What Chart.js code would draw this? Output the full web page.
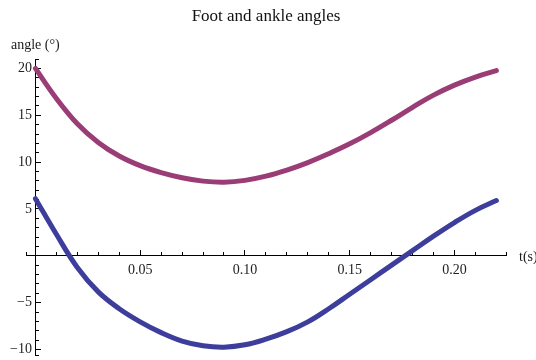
<!DOCTYPE html>
<html>
<head>
<meta charset="utf-8">
<script src="https://cdn.jsdelivr.net/npm/chart.js@4.4.1/dist/chart.umd.min.js"></script>
<style>
  html, body { margin: 0; padding: 0; background: #fff; }
  #wrap { width: 536px; height: 360px; }
</style>
</head>
<body>
<div id="wrap"><canvas id="angleChart"></canvas></div>
<script>
const tValues = [0.00, 0.01, 0.02, 0.03, 0.04, 0.05, 0.06, 0.07, 0.08, 0.09, 0.10, 0.11,
                 0.12, 0.13, 0.14, 0.15, 0.16, 0.17, 0.18, 0.19, 0.20, 0.21, 0.22];
const footAngle = [20.0, 16.8, 14.1, 12.1, 10.65, 9.62, 8.88, 8.33, 7.97, 7.85, 8.05, 8.5,
                   9.15, 9.95, 10.9, 11.95, 13.15, 14.47, 15.85, 17.15, 18.22, 19.08, 19.77];
const ankleAngle = [6.1, 2.3, -1.25, -3.85, -5.65, -7.05, -8.2, -9.1, -9.6, -9.75, -9.5, -8.9,
                    -8.1, -7.05, -5.65, -4.1, -2.55, -1.0, 0.55, 2.1, 3.55, 4.85, 5.9];
const xMajorTicks = [0.05, 0.10, 0.15, 0.20];
const yMajorTicks = [-10, -5, 5, 10, 15, 20];

const serif = '"Liberation Serif", "Times New Roman", serif';
const X_MIN = -0.0045, X_MAX = 0.2246, Y_MIN = -10.59, Y_MAX = 20.9;

function toPoints(vals) {
  return tValues.map((t, i) => ({ x: t, y: vals[i] }));
}

// axis captions sit where Mathematica puts them, not where Chart.js would
const axisCaptions = {
  id: "axisCaptions",
  afterDraw(chart) {
    const c = chart.ctx;
    c.save();
    c.font = "14px " + serif;
    c.fillStyle = "#1a1a1a";
    c.textBaseline = "middle";
    c.textAlign = "left";
    c.fillText("angle (°)", 11, 45);
    c.fillText("t(s)", 519, chart.scales.y.getPixelForValue(0) + 2);
    c.restore();
  }
};

const tickFont = { family: serif, size: 14 };

new Chart(document.getElementById("angleChart"), {
  type: "line",
  data: {
    datasets: [
      { label: "foot", data: toPoints(footAngle), borderColor: "#9a3d76", borderWidth: 5,
        borderCapStyle: "round", pointRadius: 0, tension: 0.4 },
      { label: "ankle", data: toPoints(ankleAngle), borderColor: "#3d3d9b", borderWidth: 5,
        borderCapStyle: "round", pointRadius: 0, tension: 0.4 }
    ]
  },
  options: {
    responsive: true,
    maintainAspectRatio: false,
    animation: false,
    layout: { padding: { left: 26, right: 30, top: 0, bottom: 5 } },
    plugins: {
      legend: { display: false },
      tooltip: { enabled: false },
      title: {
        display: true,
        text: "Foot and ankle angles",
        color: "#111",
        font: { family: serif, size: 17, weight: "normal" },
        padding: { top: 6.8, bottom: 32.8 }
      }
    },
    scales: {
      x: {
        type: "linear", min: X_MIN, max: X_MAX, position: { y: 0 },
        afterBuildTicks: s => { s.ticks = xMajorTicks.map(v => ({ value: v })); },
        border: { color: "#000", width: 1 },
        grid: { drawOnChartArea: false, tickLength: -6, tickColor: "#000" },
        ticks: { font: tickFont, color: "#222", padding: 11.8, maxRotation: 0, autoSkip: false,
                 callback: v => v.toFixed(2) }
      },
      xMinor: {
        axis: "x", type: "linear", min: X_MIN, max: X_MAX, position: { y: 0 },
        border: { display: false },
        grid: { drawOnChartArea: false, tickLength: -4, tickColor: "#000" },
        ticks: { display: false, stepSize: 0.01 }
      },
      y: {
        type: "linear", min: Y_MIN, max: Y_MAX, position: { x: 0 },
        afterBuildTicks: s => { s.ticks = yMajorTicks.map(v => ({ value: v })); },
        border: { color: "#000", width: 1 },
        grid: { drawOnChartArea: false, tickLength: -6, tickColor: "#000" },
        // labels sit right against a centred axis, so a trailing space gives the gap
        ticks: { font: { family: serif, size: 14, lineHeight: 0.7 }, color: "#222", padding: 0,
                 callback: v => (v < 0 ? "\u2212" + Math.abs(v) : String(v)) + " " }
      },
      yMinor: {
        axis: "y", type: "linear", min: Y_MIN, max: Y_MAX, position: { x: 0 },
        border: { display: false },
        grid: { drawOnChartArea: false, tickLength: -4, tickColor: "#000" },
        ticks: { display: false, stepSize: 1 }
      }
    }
  },
  plugins: [axisCaptions]
});
</script>
</body>
</html>
